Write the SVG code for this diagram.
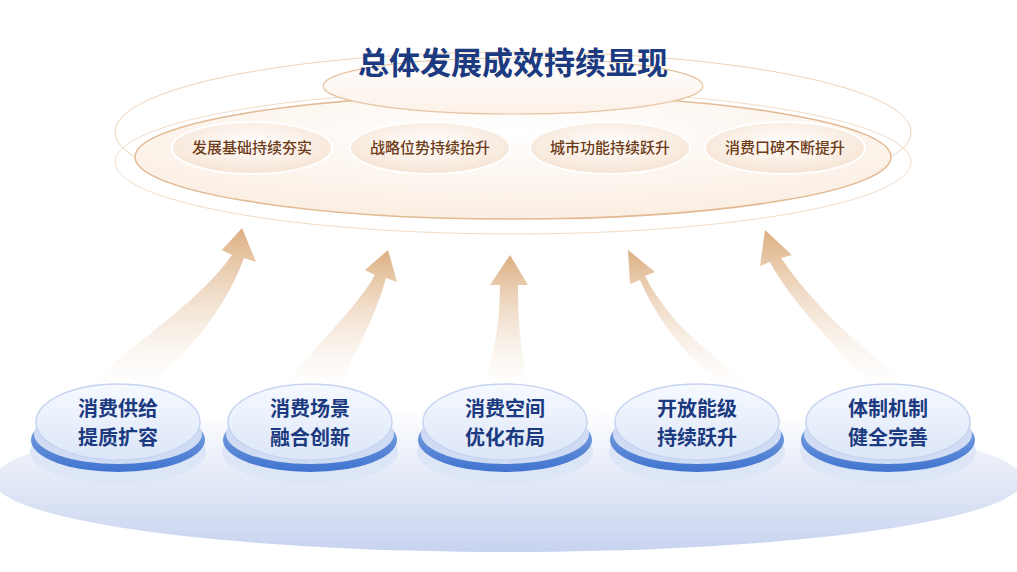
<svg xmlns="http://www.w3.org/2000/svg" width="1017" height="572" viewBox="0 0 1017 572">
<defs>
<style>
.t{font-family:"Noto Sans CJK SC","Noto Sans",sans-serif;font-weight:700;fill:#1b3a80;text-anchor:middle}
.p{font-family:"Noto Sans CJK SC","Noto Sans",sans-serif;font-weight:500;fill:#6e3b17;font-size:15px;text-anchor:middle}
.pill{fill:url(#pg);stroke:#fff;stroke-width:2}
.arr{fill:url(#ag)}
</style>
<linearGradient id="bg" x1="0" y1="0" x2="0" y2="1"><stop offset="0" stop-color="#fff"/><stop offset="1" stop-color="#c7d3ef"/></linearGradient>
<radialGradient id="eg" cx="0.5" cy="0.3" r="0.7"><stop offset="0" stop-color="#fff"/><stop offset="1" stop-color="#fbeee2"/></radialGradient>
<linearGradient id="tg" x1="0" y1="0" x2="0" y2="1"><stop offset="0" stop-color="#fff"/><stop offset="1" stop-color="#fcf1e7"/></linearGradient>
<radialGradient id="pg" cx="0.5" cy="0.4" r="0.6"><stop offset="0" stop-color="#fff"/><stop offset="1" stop-color="#f6e4d4"/></radialGradient>
<linearGradient id="ag" x1="0" y1="1" x2="0" y2="0"><stop offset="0" stop-color="#f3e2d0" stop-opacity="0"/><stop offset="1" stop-color="#dcae80"/></linearGradient>
<linearGradient id="ng" x1="0" y1="0" x2="0" y2="1"><stop offset="0" stop-color="#f6f9ff"/><stop offset="1" stop-color="#dce6f8"/></linearGradient>
<linearGradient id="rg" x1="0" y1="0" x2="0" y2="1"><stop offset="0" stop-color="#8fb0e6"/><stop offset="1" stop-color="#3f73cf"/></linearGradient>
<g id="node"><ellipse cx="0" cy="30" rx="88" ry="32" fill="#dde6f7"/><ellipse cx="0" cy="18" rx="87" ry="32" fill="url(#rg)"/><ellipse cx="0" cy="12" rx="84" ry="30" fill="#cfdcf4"/><ellipse cx="0" cy="0" rx="82" ry="38" fill="url(#ng)" stroke="#c6d4f0" stroke-width="1.5"/></g>
</defs>
<rect width="1017" height="572" fill="#fff"/>
<ellipse cx="508" cy="480" rx="515" ry="72" fill="url(#bg)"/>
<g id="top">
<ellipse cx="513" cy="162" rx="398" ry="72" fill="none" stroke="#f0dcc8" stroke-width="1"/>
<ellipse cx="513" cy="132" rx="398" ry="80" fill="none" stroke="#efd3b8" stroke-width="1"/>
<ellipse cx="513" cy="157" rx="378" ry="62" fill="url(#eg)" stroke="#e2b992" stroke-width="1.5"/>
<ellipse cx="513" cy="86" rx="190" ry="28" fill="url(#tg)" stroke="#e7c4a2" stroke-width="1.2"/>
<text class="t" x="513" y="74" font-size="31">总体发展成效持续显现</text>
</g>
<g id="pill1"><ellipse class="pill" cx="252" cy="148" rx="80" ry="26"/><text class="p" x="252" y="153">发展基础持续夯实</text></g>
<g id="pill2"><ellipse class="pill" cx="430" cy="148" rx="80" ry="26"/><text class="p" x="430" y="153">战略位势持续抬升</text></g>
<g id="pill3"><ellipse class="pill" cx="610" cy="148" rx="80" ry="26"/><text class="p" x="610" y="153">城市功能持续跃升</text></g>
<g id="pill4"><ellipse class="pill" cx="785" cy="148" rx="80" ry="26"/><text class="p" x="785" y="153">消费口碑不断提升</text></g>
<g id="connectors">
<path class="arr" d="M90,385 C150,330 200,300 232,255 L222,250 L242,228 L256,262 L244,258 C225,310 190,350 150,385 Z"/>
<path class="arr" d="M285,385 C320,340 355,310 375,275 L365,270 L388,250 L397,282 L386,278 C375,320 350,360 340,385 Z"/>
<path class="arr" d="M485,385 C495,350 500,320 500,285 L490,285 L510,255 L528,285 L518,285 C518,320 520,355 530,385 Z"/>
<path class="arr" d="M720,385 C680,350 655,315 640,280 L630,284 L628,250 L655,272 L645,276 C665,315 700,350 755,385 Z"/>
<path class="arr" d="M870,385 C830,340 790,300 770,262 L760,266 L765,230 L792,255 L781,258 C810,300 850,340 910,385 Z"/>
</g>
<g id="n1" transform="translate(118,422)"><use href="#node"/><text class="t" x="0" y="-6" font-size="20">消费供给</text><text class="t" x="0" y="23" font-size="20">提质扩容</text></g>
<g id="n2" transform="translate(310,422)"><use href="#node"/><text class="t" x="0" y="-6" font-size="20">消费场景</text><text class="t" x="0" y="23" font-size="20">融合创新</text></g>
<g id="n3" transform="translate(505,422)"><use href="#node"/><text class="t" x="0" y="-6" font-size="20">消费空间</text><text class="t" x="0" y="23" font-size="20">优化布局</text></g>
<g id="n4" transform="translate(697,422)"><use href="#node"/><text class="t" x="0" y="-6" font-size="20">开放能级</text><text class="t" x="0" y="23" font-size="20">持续跃升</text></g>
<g id="n5" transform="translate(888,422)"><use href="#node"/><text class="t" x="0" y="-6" font-size="20">体制机制</text><text class="t" x="0" y="23" font-size="20">健全完善</text></g>
</svg>
